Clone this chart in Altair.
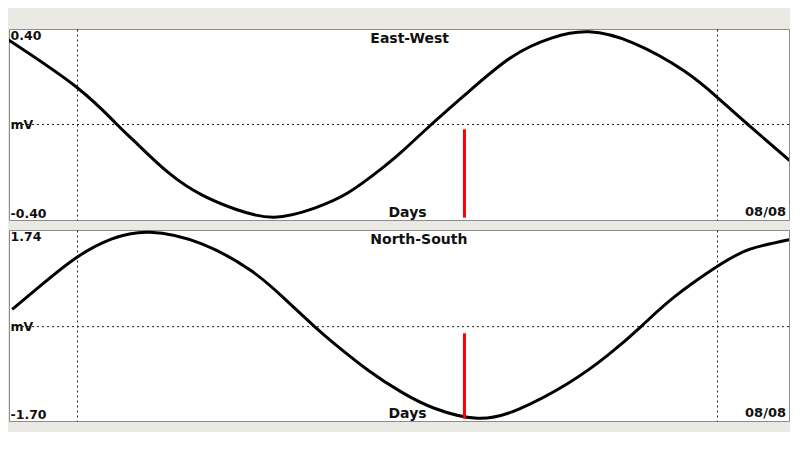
import pandas as pd
import altair as alt

# time in hours from midnight; dotted day marks at 0 and 24
hour_range = [-2.55, 26.7]
day_marks = [0, 24]
date_label = "08/08"
name_hour = 11.0  # where the panel names start

# East-West trace (mV)
ew_hours = [-2.58, 0.0, 1.50, 2.17, 3.44, 4.68, 5.92, 7.40, 8.91, 10.18, 11.42, 12.17,
            13.29, 14.68, 16.29, 17.79, 19.20, 20.89, 22.76, 24.03, 25.16, 26.85]
ew_mv = [0.355, 0.155, 0.0, -0.072, -0.203, -0.295, -0.354, -0.388, -0.350, -0.285, -0.185, -0.115,
         0.0, 0.137, 0.282, 0.362, 0.388, 0.340, 0.225, 0.112, 0.0, -0.163]
ew_range = [-0.40, 0.40]

# North-South trace (mV)
ns_hours = [-2.43, -1.31, 0.0, 1.31, 2.73, 4.68, 6.55, 7.79, 8.91, 9.66, 10.93, 12.17,
            13.40, 15.01, 16.55, 18.42, 19.92, 21.15, 22.39, 24.03, 25.27, 26.85]
ns_mv = [0.31, 0.76, 1.25, 1.58, 1.70, 1.49, 1.00, 0.50, 0.0, -0.31, -0.79, -1.18,
         -1.47, -1.65, -1.49, -1.02, -0.51, 0.0, 0.53, 1.09, 1.40, 1.58]
ns_range = [-1.70, 1.74]

# red "now" marker
marker_hour = 14.53
ew_marker = [-0.02, -0.39]
ns_marker = [-0.12, -1.66]

FONT = "DejaVu Sans"
INK = "#111111"


def panel(name, hours, mv, rng, marker):
    curve = pd.DataFrame({"hour": hours, "mv": mv})
    zero = pd.DataFrame({"mv": [0]})
    red = pd.DataFrame({"hour": [marker_hour], "mv": [marker[0]], "mv2": [marker[1]]})
    date = pd.DataFrame({"hour": [hour_range[1]], "mv": [rng[0]], "label": [date_label]})
    head = pd.DataFrame({"hour": [name_hour], "mv": [rng[1]], "label": [name]})

    x = alt.X("hour:Q",
              scale=alt.Scale(domain=hour_range, nice=False, zero=False),
              axis=alt.Axis(values=day_marks, grid=True, gridDash=[2, 3],
                            gridColor="#222222", gridOpacity=1,
                            labels=False, ticks=False, domain=False,
                            title="Days", titleX=379, titleY=-1,
                            titleAlign="left", titleBaseline="bottom",
                            titleFont=FONT, titleFontSize=14,
                            titleFontWeight="bold", titleColor=INK))
    y = alt.Y("mv:Q",
              scale=alt.Scale(domain=rng, nice=False, zero=False),
              axis=alt.Axis(values=[rng[0], 0, rng[1]], grid=False, ticks=False,
                            domain=False, title="", labelAlign="left",
                            labelPadding=-1, labelFlush=True,
                            labelExpr="datum.value == 0 ? 'mV' : "
                                      "replace(format(datum.value, '.2f'), '\u2212', '-')",
                            labelFont=FONT, labelFontSize=12.5, labelFontWeight="bold",
                            labelColor=INK))

    midline = alt.Chart(zero).mark_rule(color="#222222", strokeDash=[2, 3],
                                         strokeWidth=1).encode(y=y)
    line = alt.Chart(curve).mark_line(color="black", strokeWidth=3,
                                      interpolate="natural", clip=True).encode(x=x, y=y)
    now = alt.Chart(red).mark_rule(color="#ff0000", strokeWidth=3).encode(
        x=x, y=y, y2="mv2:Q")
    stamp = alt.Chart(date).mark_text(align="right", baseline="bottom", dx=-3, dy=-1,
                                      font=FONT, fontSize=13, fontWeight="bold",
                                      color=INK).encode(x=x, y=y, text="label:N")
    title = alt.Chart(head).mark_text(align="left", baseline="top", dy=3,
                                      font=FONT, fontSize=14, fontWeight="bold",
                                      color=INK).encode(x=x, y=y, text="label:N")

    return alt.layer(midline, line, now, stamp, title).properties(width=780, height=191)


chart = alt.vconcat(
    panel("East-West", ew_hours, ew_mv, ew_range, ew_marker),
    panel("North-South", ns_hours, ns_mv, ns_range, ns_marker),
    spacing=8,
).properties(
    background="#ebe9e3",
    padding={"top": 20, "left": 0, "right": 0, "bottom": 10},
).configure_view(
    fill="white", stroke="#8c8c8c", strokeWidth=1
)

chart.save("out.html", embed_options={"renderer": "svg", "actions": False})
